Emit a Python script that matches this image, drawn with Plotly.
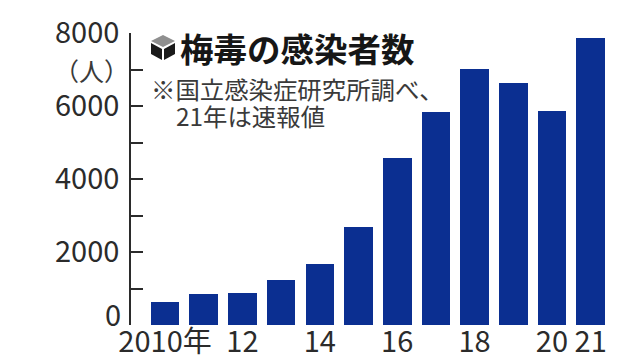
import plotly.graph_objects as go

years = [2010, 2011, 2012, 2013, 2014, 2015, 2016, 2017, 2018, 2019, 2020, 2021]
cases = [625, 840, 875, 1230, 1665, 2695, 4575, 5830, 7005, 6640, 5870, 7875]
x_tick_vals = [2010, 2012, 2014, 2016, 2018, 2020, 2021]
x_tick_text = ["2010年", "12", "14", "16", "18", "20", "21"]
y_tick_vals = [2000, 4000, 6000, 8000]
y_tick_text = ["2000", "4000", "6000", "8000"]
title_text = "梅毒の感染者数"
unit_text = "（人）"
note_line1 = "※国立感染症研究所調べ、"
note_line2 = "21年は速報値"

W, H = 640, 360
L, R, T, B = 131, 30, 33, 35
NUM = "Noto Sans CJK JP"
CJK = "Noto Sans CJK JP"
INK = "#2b2b2b"
BAR = "#0b2f91"

def px(x):
    return (x - L) / (W - L - R)
def py(y):
    return 1 - (y - T) / (H - T - B)

fig = go.Figure(go.Bar(x=years, y=cases, width=0.74, marker=dict(color=BAR, line=dict(width=0))))

def label(x, y, text, size, family=CJK, color=INK, anchor="left", bold=False):
    t = f"<b>{text}</b>" if bold else text
    fig.add_annotation(xref="paper", yref="paper", x=px(x), y=py(y), text=t, showarrow=False,
                       xanchor=anchor, yanchor="middle", borderpad=0,
                       font=dict(family=family, size=size, color=color))

def icon(points, color):
    path = "M " + " L ".join(f"{px(x)},{py(y)}" for x, y in points) + " Z"
    fig.add_shape(type="path", xref="paper", yref="paper", path=path, fillcolor=color, line=dict(width=0))

icon([(163, 35), (175, 41), (163, 47), (151, 41)], "#8f8f8f")
icon([(151, 43), (162, 49), (162, 60), (151, 54)], "#1a1a1a")
icon([(175, 43), (164, 49), (164, 60), (175, 54)], "#1a1a1a")

label(179, 48, title_text, 33.5, bold=True, color="#161616")
label(150, 88, note_line1, 24.4, color="#3a3a3a")
label(175, 115, note_line2, 24.4, color="#3a3a3a")
label(53, 70, unit_text, 25, color="#3a3a3a")
label(122, 313, "0", 29, family=NUM, anchor="right")

fig.update_layout(
    width=W, height=H, autosize=False,
    margin=dict(l=L, r=R, t=T, b=B, pad=0, autoexpand=False),
    paper_bgcolor="white", plot_bgcolor="white",
    showlegend=False, bargap=0,
    xaxis=dict(range=[2009.12, 2021.5], tickmode="array", tickvals=x_tick_vals, ticktext=x_tick_text,
               ticks="", showgrid=False, zeroline=False, showline=False, tickangle=0, automargin=False,
               tickfont=dict(family=NUM, size=29, color=INK), ticklabelstandoff=-3),
    yaxis=dict(range=[0, 8000], tickmode="array", tickvals=[0, 1000, 2000, 3000, 4000, 5000, 6000, 7000, 8000],
               ticktext=["", "", y_tick_text[0], "", y_tick_text[1], "", y_tick_text[2], "", y_tick_text[3]],
               ticks="inside", ticklen=12, tickwidth=1.6, tickcolor=INK, automargin=False,
               showgrid=False, zeroline=False, showline=True, linecolor=INK, linewidth=1.6,
               tickfont=dict(family=NUM, size=29, color=INK), ticklabelstandoff=4),
)

fig.write_html("out.html", config={"displayModeBar": False},
               post_script="document.body.style.margin='0';")
